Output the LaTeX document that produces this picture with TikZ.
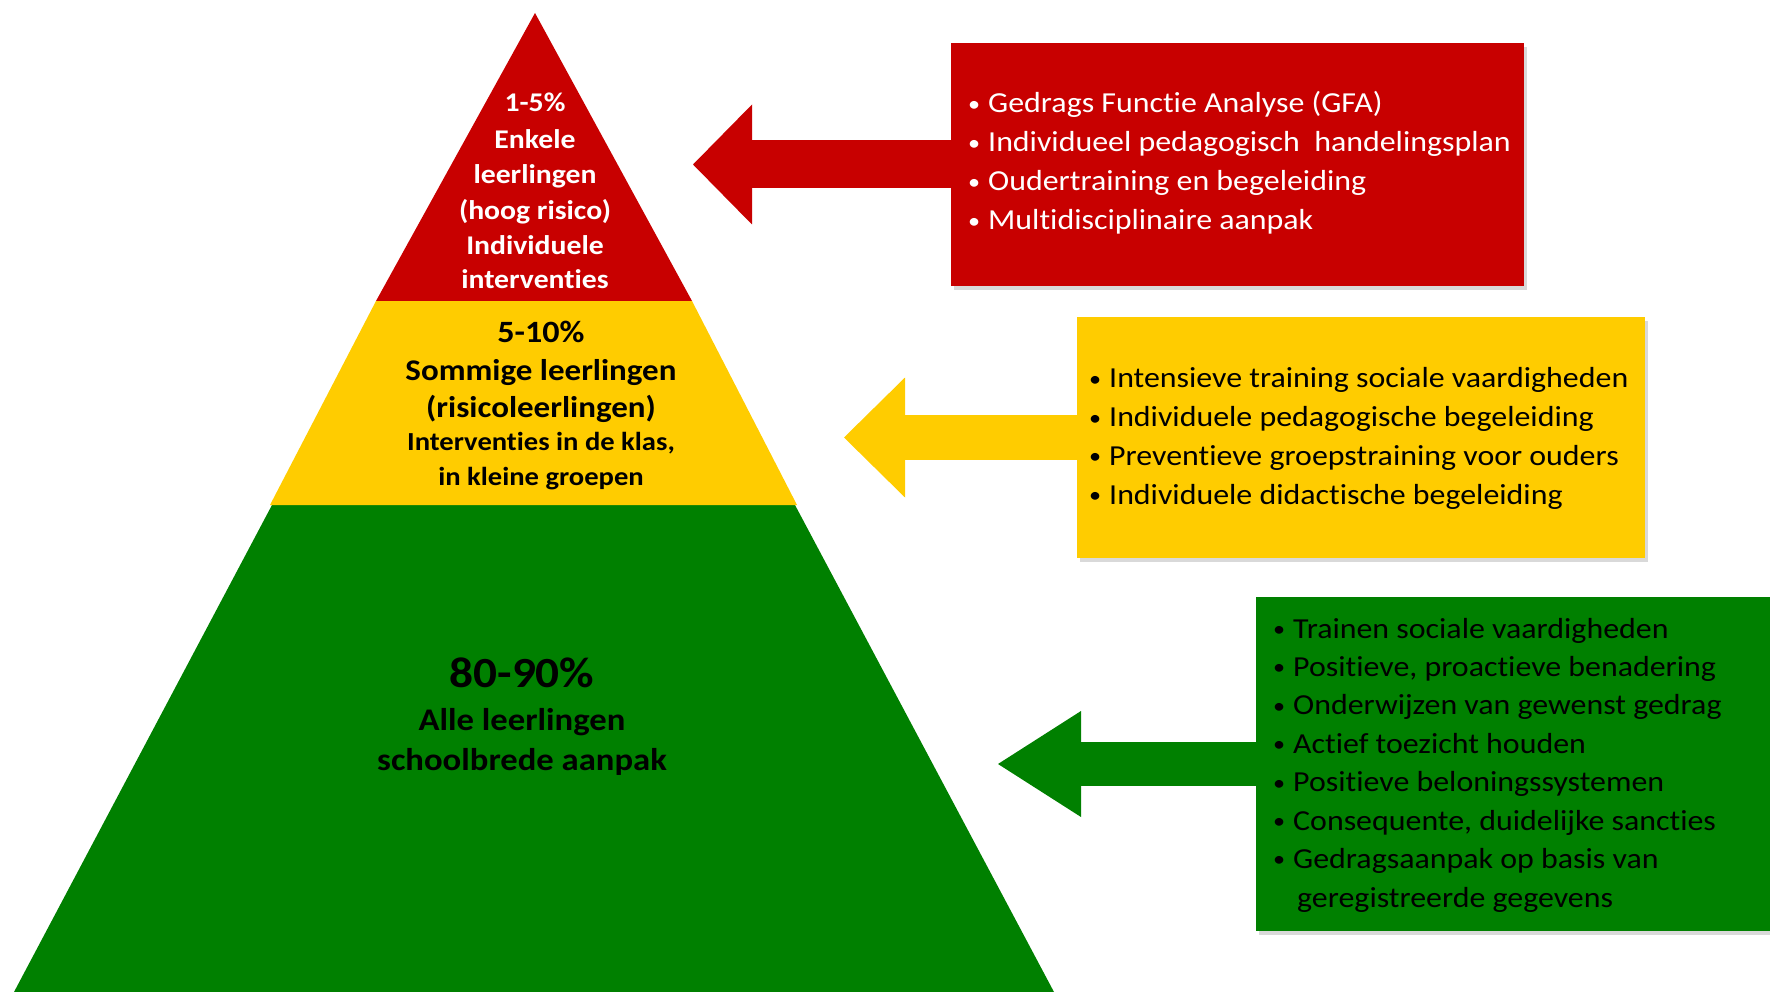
\documentclass[tikz,border=0pt]{standalone}
\usepackage{fontspec}
\setmainfont{Carlito}[FakeStretch=1.1, Ligatures=NoCommon]
\usetikzlibrary{arrows.meta,shadows}

\definecolor{pyrred}{RGB}{200,0,0}
\definecolor{pyryellow}{RGB}{255,204,0}
\definecolor{pyrgreen}{RGB}{0,128,0}

\newcommand{\pyrbullet}{\llap{\raisebox{1.5pt}{\fontsize{22}{22}\selectfont\textbullet}\hspace{8pt}}}

\begin{document}
\begin{tikzpicture}[x=1pt, y=-1pt,
                    lvl/.style={inner sep=0pt, anchor=base},
                    box/.style={inner sep=0pt,
                                drop shadow={shadow xshift=3pt, shadow yshift=-4pt, opacity=0.3}},
                    item/.style={inner sep=0pt, anchor=base west,
                                 font=\fontsize{29}{29}\selectfont},
                    bigarrow/.style={line width=#1}]

                      \useasboundingbox (0,0) rectangle (1770,992);

                      % pyramid
                      \fill[pyrgreen] (272,505) -- (795,505) -- (1054,992) -- (14,992) -- cycle;
                      \fill[pyryellow] (376,301) -- (692,301) -- (797,505) -- (270,505) -- cycle;
                      \fill[pyrred] (535,13) -- (692,301) -- (376,301) -- cycle;

                      \foreach \y/\t [count=\i] in {112/1-5\%, 149/Enkele, 184/leerlingen,
                                                    220/(hoog risico), 255/Individuele, 289/interventies} {
                              \node[lvl, white, font=\fontsize{27}{27}\selectfont\bfseries] (top\i) at (535,\y) {\t};
                          }
                      \foreach \y/\s/\t [count=\i] in {343/31/5-10\%, 381/30/Sommige leerlingen,
                                                       417/30/(risicoleerlingen), {450/26/Interventies in de klas,},
                                                       485/26/in kleine groepen} {
                              \node[lvl, font=\fontsize{\s}{\s}\selectfont\bfseries] (mid\i) at (541,\y) {\t};
                          }
                      \foreach \y/\s/\t [count=\i] in {687/43/80-90\%, 730/31.5/Alle leerlingen,
                                                       770/31.5/schoolbrede aanpak} {
                              \node[lvl, font=\fontsize{\s}{\s}\selectfont\bfseries] (base\i) at (522,\y) {\t};
                          }

                      % boxes
                      \node[box, fill=pyrred, minimum width=573pt, minimum height=243pt] (redbox) at (1237.5,164.5) {};
                      \node[box, fill=pyryellow, minimum width=568pt, minimum height=241pt] (yellowbox) at (1361,437.5) {};
                      \node[box, fill=pyrgreen, minimum width=514pt, minimum height=334pt] (greenbox) at (1513,764) {};

                      \foreach \t [count=\i from 0] in {Gedrags Functie Analyse (GFA),
                                                        Individueel pedagogisch\ \ handelingsplan,
                                                        Oudertraining en begeleiding,
                                                        Multidisciplinaire aanpak} {
                              \node[item, white] (red\i) at (988,113+39*\i) {\pyrbullet\t};
                          }
                      \foreach \t [count=\i from 0] in {Intensieve training sociale vaardigheden,
                                                        Individuele pedagogische begeleiding,
                                                        Preventieve groepstraining voor ouders,
                                                        Individuele didactische begeleiding} {
                              \node[item] (yellow\i) at (1109,388+38.7*\i) {\pyrbullet\t};
                          }
                      \foreach \t [count=\i from 0] in {Trainen sociale vaardigheden,
                                                        {Positieve, proactieve benadering},
                                                        Onderwijzen van gewenst gedrag,
                                                        Actief toezicht houden,
                                                        Positieve beloningssystemen,
                                                        {Consequente, duidelijke sancties},
                                                        Gedragsaanpak op basis van} {
                              \node[item] (green\i) at (1293,638+38.4*\i) {\pyrbullet\t};
                          }
                      \node[item] (green7) at (1297,907) {geregistreerde gegevens};

                      % arrows
                      \coordinate (redtip) at (693,164.5);
                      \coordinate (yellowtip) at (844,437.5);
                      \coordinate (greentip) at (998,764);

                      \draw[pyrred, bigarrow=48pt, -{Triangle[length=59pt, width=120pt, line width=0pt]}] (redbox.west) -- (redtip);
                      \draw[pyryellow, bigarrow=45pt, -{Triangle[length=61pt, width=120pt, line width=0pt]}] (yellowbox.west) -- (yellowtip);
                      \draw[pyrgreen, bigarrow=44pt, -{Triangle[length=83pt, width=106pt, line width=0pt]}] (greenbox.west) -- (greentip);
                  \end{tikzpicture}
\end{document}
